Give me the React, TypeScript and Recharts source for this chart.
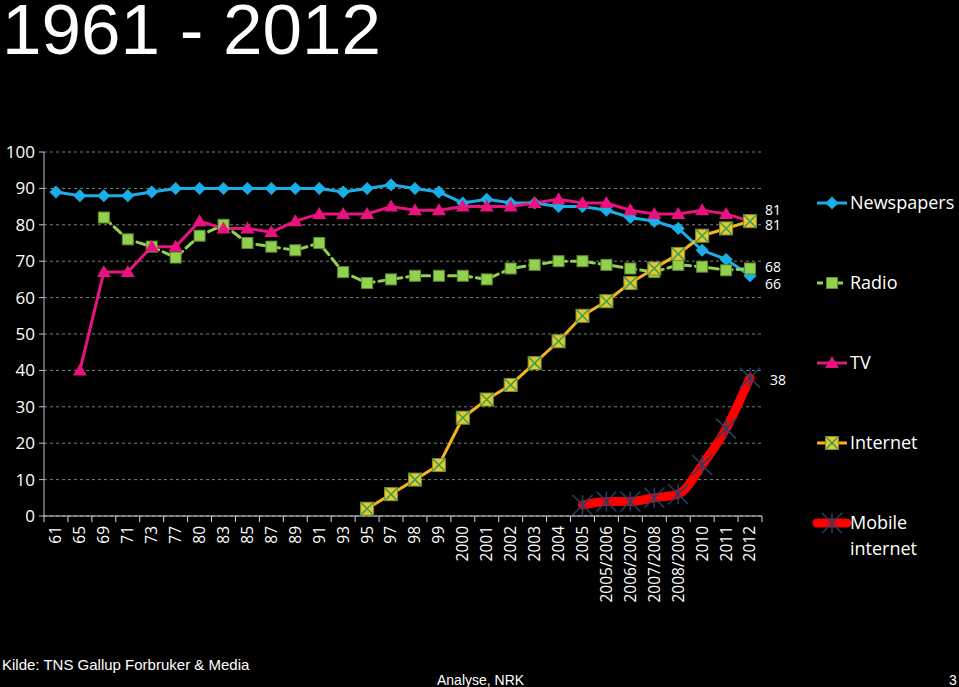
import React from 'react';
import { LineChart, Line, XAxis, YAxis, CartesianGrid, LabelList } from 'recharts';

const categories = [
  '61', '65', '69', '71', '73', '77', '80', '83', '85', '87', '89', '91', '93', '95', '97', '98', '99',
  '2000', '2001', '2002', '2003', '2004', '2005', '2005/2006', '2006/2007', '2007/2008', '2008/2009',
  '2010', '2011', '2012',
];

const newspapers = [89, 88, 88, 88, 89, 90, 90, 90, 90, 90, 90, 90, 89, 90, 91, 90, 89, 86, 87, 86, 86, 85, 85, 84, 82, 81, 79, 73, 70.5, 66];
const radio = [null, null, 82, 76, 74, 71, 77, 80, 75, 74, 73, 75, 67, 64, 65, 66, 66, 66, 65, 68, 69, 70, 70, 69, 68, 67, 69, 68.5, 67.5, 68];
const tv = [null, 40, 67, 67, 74, 74, 81, 79, 79, 78, 81, 83, 83, 83, 85, 84, 84, 85, 85, 85, 86, 87, 86, 86, 84, 83, 83, 84, 83, 81];
const internet = [null, null, null, null, null, null, null, null, null, null, null, null, null, 2, 6, 10, 14, 27, 32, 36, 42, 48, 55, 59, 64, 68, 72, 77, 79, 81];
const mobile = [null, null, null, null, null, null, null, null, null, null, null, null, null, null, null, null, null, null, null, null, null, null, 3, 4, 4, 5, 6, 14, 24, 38];

const yTicks = [0, 10, 20, 30, 40, 50, 60, 70, 80, 90, 100];

const data = categories.map((cat, i) => ({
  cat,
  newspapers: newspapers[i],
  radio: radio[i],
  tv: tv[i],
  internet: internet[i],
  mobile: mobile[i],
}));

const FONT = "'Open Sans', sans-serif";
const PLOT_LEFT = 44;
const PLOT_RIGHT = 762;
const BAND = (PLOT_RIGHT - PLOT_LEFT) / categories.length;

type Kind = 'diamond' | 'square' | 'triangle' | 'boxX' | 'star';

function Marker({ kind, cx, cy }: { kind: Kind; cx: number; cy: number }) {
  if (kind === 'diamond') {
    const r = 6.5;
    return <polygon points={`${cx},${cy - r} ${cx + r},${cy} ${cx},${cy + r} ${cx - r},${cy}`} fill="#1aaee6" />;
  }
  if (kind === 'square') {
    return <rect x={cx - 5.5} y={cy - 5.5} width={11} height={11} fill="#92d050" stroke="#5e8c2c" strokeWidth={1} />;
  }
  if (kind === 'triangle') {
    return <polygon points={`${cx},${cy - 7} ${cx + 7},${cy + 5} ${cx - 7},${cy + 5}`} fill="#e8137f" />;
  }
  if (kind === 'boxX') {
    const h = 6.5;
    return (
      <g>
        <rect x={cx - h} y={cy - h} width={h * 2} height={h * 2} fill="#e5c830" stroke="#8f8a22" strokeWidth={1} />
        <line x1={cx - h} y1={cy - h} x2={cx + h} y2={cy + h} stroke="#33a05a" strokeWidth={1.5} />
        <line x1={cx - h} y1={cy + h} x2={cx + h} y2={cy - h} stroke="#33a05a" strokeWidth={1.5} />
      </g>
    );
  }
  const s = 10;
  return (
    <g stroke="#22406a" strokeWidth={1.5}>
      <line x1={cx - s} y1={cy - s} x2={cx + s} y2={cy + s} />
      <line x1={cx - s} y1={cy + s} x2={cx + s} y2={cy - s} />
      <line x1={cx} y1={cy - s} x2={cx} y2={cy + s} />
    </g>
  );
}

const series = [
  { key: 'newspapers', name: 'Newspapers', color: '#1aaee6', width: 3, dash: undefined, marker: 'diamond' as Kind, curve: 'linear', dx: 15, dy: 8 },
  { key: 'radio', name: 'Radio', color: '#92d050', width: 3, dash: '9 5', marker: 'square' as Kind, curve: 'linear', dx: 15, dy: -1 },
  { key: 'tv', name: 'TV', color: '#e8137f', width: 3, dash: undefined, marker: 'triangle' as Kind, curve: 'linear', dx: 15, dy: -11 },
  { key: 'internet', name: 'Internet', color: '#f3b51c', width: 3, dash: undefined, marker: 'boxX' as Kind, curve: 'linear', dx: 15, dy: 4 },
  { key: 'mobile', name: 'Mobile internet', color: '#ff0000', width: 9, dash: undefined, marker: 'star' as Kind, curve: 'monotone', dx: 20, dy: 2 },
];

function XTick(props: any) {
  const { x, y, payload, index } = props;
  const last = index === categories.length - 1;
  return (
    <g>
      <line x1={x - BAND / 2} x2={x - BAND / 2} y1={y} y2={y + 6} stroke="#d9d9d9" />
      {last && <line x1={x + BAND / 2} x2={x + BAND / 2} y1={y} y2={y + 6} stroke="#d9d9d9" />}
      <text
        transform={`translate(${x},${y + 10}) rotate(-90)`}
        textAnchor="end"
        dy="0.35em"
        fill="#fff"
        fontSize={15.5}
        fontFamily={FONT}
      >
        {payload.value}
      </text>
    </g>
  );
}

const legendRows = [203, 283, 363, 443, 523];

export default function App() {
  return (
    <div style={{ position: 'absolute', left: 0, top: 0, width: 959, height: 687, background: '#000', overflow: 'hidden' }}>
      <LineChart
        width={959}
        height={687}
        data={data}
        margin={{ top: 152, right: 959 - PLOT_RIGHT, bottom: 0, left: 4 }}
      >
        <CartesianGrid vertical={false} stroke="#7f7f7f" strokeDasharray="3 3" />
        <XAxis
          dataKey="cat"
          interval={0}
          height={171}
          tickSize={0}
          tickMargin={0}
          tickLine={false}
          padding={{ left: BAND / 2, right: BAND / 2 }}
          axisLine={{ stroke: '#d9d9d9' }}
          tick={<XTick />}
        />
        <YAxis
          width={40}
          domain={[0, 100]}
          ticks={yTicks}
          tickSize={5}
          tickMargin={4}
          axisLine={{ stroke: '#bfbfbf' }}
          tickLine={{ stroke: '#bfbfbf' }}
          tick={{ fill: '#fff', fontSize: 17, fontFamily: FONT }}
        />
        {series.map((s) => (
          <Line
            key={s.key}
            dataKey={s.key}
            name={s.name}
            type={s.curve as any}
            stroke={s.color}
            strokeWidth={s.width}
            strokeDasharray={s.dash}
            strokeLinecap="round"
            isAnimationActive={false}
            dot={(p: any) =>
              p.cy == null || p.value == null ? (
                <g key={`${s.key}-${p.index}`} />
              ) : (
                <Marker key={`${s.key}-${p.index}`} kind={s.marker} cx={p.cx} cy={p.cy} />
              )
            }
            activeDot={false}
          >
            <LabelList
              dataKey={s.key}
              content={(p: any) =>
                p.index === categories.length - 1 ? (
                  <text
                    x={p.x + s.dx}
                    y={p.y + s.dy}
                    dy="0.35em"
                    fill="#fff"
                    fontSize={14}
                    fontFamily={FONT}
                  >
                    {p.value}
                  </text>
                ) : null
              }
            />
          </Line>
        ))}
      </LineChart>
      <svg width={959} height={687} style={{ position: 'absolute', left: 0, top: 0, pointerEvents: 'none' }}>
        <text x={2} y={54} fontSize={71} fill="#fff" fontFamily="'Liberation Sans', Arial, sans-serif">
          1961 - 2012
        </text>
        {series.map((s, i) => {
          const y = legendRows[i];
          return (
            <g key={s.key}>
              <line
                x1={817}
                x2={847}
                y1={y}
                y2={y}
                stroke={s.color}
                strokeWidth={s.width}
                strokeDasharray={s.key === 'radio' ? '6 4' : undefined}
                strokeLinecap={s.key === 'mobile' ? 'round' : 'butt'}
              />
              <Marker kind={s.marker} cx={832} cy={y} />
              {s.key === 'mobile' ? (
                <text x={850} y={y} dy="0.35em" fill="#fff" fontSize={18} fontFamily={FONT}>
                  <tspan x={850}>Mobile</tspan>
                  <tspan x={850} dy={26}>internet</tspan>
                </text>
              ) : (
                <text x={850} y={y} dy="0.35em" fill="#fff" fontSize={18} fontFamily={FONT}>
                  {s.name}
                </text>
              )}
            </g>
          );
        })}
        <text x={2} y={670} fontSize={15} fill="#fff" fontFamily="'Liberation Sans', Arial, sans-serif">
          Kilde: TNS Gallup Forbruker &amp; Media
        </text>
        <text x={437} y={685} fontSize={14} fill="#fff" fontFamily="'Liberation Sans', Arial, sans-serif">
          Analyse, NRK
        </text>
        <text x={949} y={685} fontSize={14} fill="#fff" fontFamily="'Liberation Sans', Arial, sans-serif">
          3
        </text>
      </svg>
    </div>
  );
}
